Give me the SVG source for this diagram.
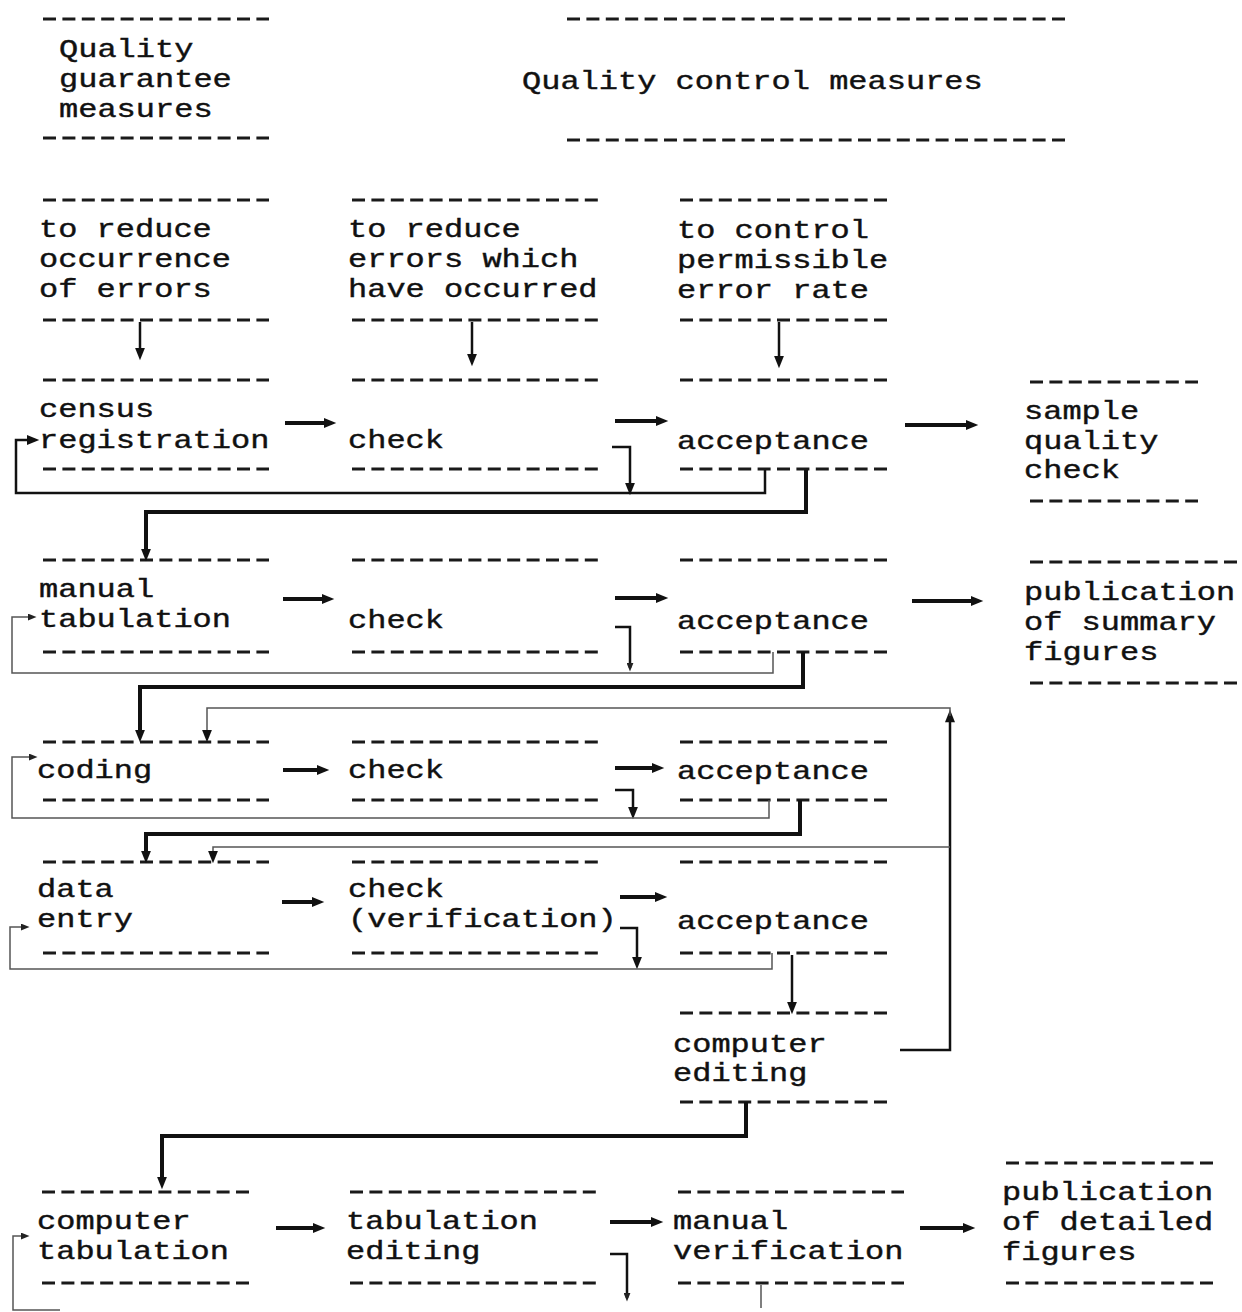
<svg xmlns="http://www.w3.org/2000/svg" width="1242" height="1312" viewBox="0 0 1242 1312">
<style>
.t{font-family:"Liberation Mono","Courier New",monospace;font-size:32px;fill:#111;stroke:#111;stroke-width:0.5}
.d{stroke:#1a1a1a;stroke-width:3;stroke-dasharray:13 6.4;fill:none}
.k{stroke:#111;stroke-width:4;fill:none}
.m{stroke:#111;stroke-width:2.5;fill:none}
.n{stroke:#555;stroke-width:1.5;fill:none}
</style>
<defs>
<marker id="ah" viewBox="0 0 10 8" refX="5" refY="4" markerWidth="13" markerHeight="10" markerUnits="userSpaceOnUse" orient="auto"><path d="M0,0 L10,4 L0,8 z" fill="#111"/></marker>
<marker id="as" viewBox="0 0 10 8" refX="6" refY="4" markerWidth="9" markerHeight="7" markerUnits="userSpaceOnUse" orient="auto"><path d="M0,0 L10,4 L0,8 z" fill="#222"/></marker>
</defs>
<rect width="1242" height="1312" fill="#fff"/>

<g id="header-guarantee">
<line class="d" x1="43" y1="19" x2="269" y2="19"/>
<text class="t" transform="translate(59,57) scale(1,0.8)"><tspan x="0" y="0">Quality</tspan><tspan x="0" y="37.5">guarantee</tspan><tspan x="0" y="75">measures</tspan></text>
<line class="d" x1="43" y1="138" x2="269" y2="138"/>
</g>
<g id="header-control">
<line class="d" x1="567" y1="19" x2="1065" y2="19"/>
<text class="t" transform="translate(522,89) scale(1,0.8)">Quality control measures</text>
<line class="d" x1="567" y1="140" x2="1065" y2="140"/>
</g>

<g id="cat-reduce-occurrence">
<line class="d" x1="43" y1="200" x2="269" y2="200"/>
<text class="t" transform="translate(39,237) scale(1,0.8)"><tspan x="0" y="0">to reduce</tspan><tspan x="0" y="37.5">occurrence</tspan><tspan x="0" y="75">of errors</tspan></text>
<line class="d" x1="43" y1="320" x2="269" y2="320"/>
</g>
<g id="cat-reduce-errors">
<line class="d" x1="352" y1="200" x2="598" y2="200"/>
<text class="t" transform="translate(348,237) scale(1,0.8)"><tspan x="0" y="0">to reduce</tspan><tspan x="0" y="37.5">errors which</tspan><tspan x="0" y="75">have occurred</tspan></text>
<line class="d" x1="352" y1="320" x2="598" y2="320"/>
</g>
<g id="cat-control-rate">
<line class="d" x1="680" y1="200" x2="887" y2="200"/>
<text class="t" transform="translate(677,238) scale(1,0.8)"><tspan x="0" y="0">to control</tspan><tspan x="0" y="37.5">permissible</tspan><tspan x="0" y="75">error rate</tspan></text>
<line class="d" x1="680" y1="320" x2="887" y2="320"/>
</g>

<g id="census-registration">
<line class="d" x1="43" y1="380" x2="269" y2="380"/>
<text class="t" transform="translate(39,417) scale(1,0.8)"><tspan x="0" y="0">census</tspan><tspan x="0" y="38.75">registration</tspan></text>
<line class="d" x1="43" y1="469" x2="269" y2="469"/>
</g>
<g id="check-1">
<line class="d" x1="352" y1="380" x2="598" y2="380"/>
<text class="t" transform="translate(348,448) scale(1,0.8)">check</text>
<line class="d" x1="352" y1="469" x2="598" y2="469"/>
</g>
<g id="acceptance-1">
<line class="d" x1="680" y1="380" x2="887" y2="380"/>
<text class="t" transform="translate(677,449) scale(1,0.8)">acceptance</text>
<line class="d" x1="680" y1="469" x2="887" y2="469"/>
</g>
<g id="sample-quality-check">
<line class="d" x1="1030" y1="382" x2="1198" y2="382"/>
<text class="t" transform="translate(1024,419) scale(1,0.8)"><tspan x="0" y="0">sample</tspan><tspan x="0" y="37.5">quality</tspan><tspan x="0" y="74">check</tspan></text>
<line class="d" x1="1030" y1="501" x2="1198" y2="501"/>
</g>

<g id="manual-tabulation">
<line class="d" x1="43" y1="560" x2="269" y2="560"/>
<text class="t" transform="translate(39,597) scale(1,0.8)"><tspan x="0" y="0">manual</tspan><tspan x="0" y="37.5">tabulation</tspan></text>
<line class="d" x1="43" y1="652" x2="269" y2="652"/>
</g>
<g id="check-2">
<line class="d" x1="352" y1="560" x2="598" y2="560"/>
<text class="t" transform="translate(348,628) scale(1,0.8)">check</text>
<line class="d" x1="352" y1="652" x2="598" y2="652"/>
</g>
<g id="acceptance-2">
<line class="d" x1="680" y1="560" x2="887" y2="560"/>
<text class="t" transform="translate(677,629) scale(1,0.8)">acceptance</text>
<line class="d" x1="680" y1="652" x2="887" y2="652"/>
</g>
<g id="publication-summary">
<line class="d" x1="1030" y1="562" x2="1237" y2="562"/>
<text class="t" transform="translate(1024,600) scale(1,0.8)"><tspan x="0" y="0">publication</tspan><tspan x="0" y="37.5">of summary</tspan><tspan x="0" y="75">figures</tspan></text>
<line class="d" x1="1030" y1="683" x2="1237" y2="683"/>
</g>

<g id="coding">
<line class="d" x1="43" y1="742" x2="269" y2="742"/>
<text class="t" transform="translate(37,778) scale(1,0.8)">coding</text>
<line class="d" x1="43" y1="800" x2="269" y2="800"/>
</g>
<g id="check-3">
<line class="d" x1="352" y1="742" x2="598" y2="742"/>
<text class="t" transform="translate(348,778) scale(1,0.8)">check</text>
<line class="d" x1="352" y1="800" x2="598" y2="800"/>
</g>
<g id="acceptance-3">
<line class="d" x1="680" y1="742" x2="887" y2="742"/>
<text class="t" transform="translate(677,779) scale(1,0.8)">acceptance</text>
<line class="d" x1="680" y1="800" x2="887" y2="800"/>
</g>

<g id="data-entry">
<line class="d" x1="43" y1="862" x2="269" y2="862"/>
<text class="t" transform="translate(37,897) scale(1,0.8)"><tspan x="0" y="0">data</tspan><tspan x="0" y="37.5">entry</tspan></text>
<line class="d" x1="43" y1="953" x2="269" y2="953"/>
</g>
<g id="check-verification">
<line class="d" x1="352" y1="862" x2="598" y2="862"/>
<text class="t" transform="translate(348,897) scale(1,0.8)"><tspan x="0" y="0">check</tspan><tspan x="0" y="37.5">(verification)</tspan></text>
<line class="d" x1="352" y1="953" x2="598" y2="953"/>
</g>
<g id="acceptance-4">
<line class="d" x1="680" y1="862" x2="887" y2="862"/>
<text class="t" transform="translate(677,929) scale(1,0.8)">acceptance</text>
<line class="d" x1="680" y1="953" x2="887" y2="953"/>
</g>

<g id="computer-editing">
<line class="d" x1="680" y1="1013" x2="887" y2="1013"/>
<text class="t" transform="translate(673,1052) scale(1,0.8)"><tspan x="0" y="0">computer</tspan><tspan x="0" y="36.25">editing</tspan></text>
<line class="d" x1="680" y1="1102" x2="887" y2="1102"/>
</g>

<g id="computer-tabulation">
<line class="d" x1="42" y1="1192" x2="249" y2="1192"/>
<text class="t" transform="translate(37,1229) scale(1,0.8)"><tspan x="0" y="0">computer</tspan><tspan x="0" y="37.5">tabulation</tspan></text>
<line class="d" x1="42" y1="1283" x2="249" y2="1283"/>
</g>
<g id="tabulation-editing">
<line class="d" x1="350" y1="1192" x2="596" y2="1192"/>
<text class="t" transform="translate(346,1229) scale(1,0.8)"><tspan x="0" y="0">tabulation</tspan><tspan x="0" y="37.5">editing</tspan></text>
<line class="d" x1="350" y1="1283" x2="596" y2="1283"/>
</g>
<g id="manual-verification">
<line class="d" x1="678" y1="1192" x2="904" y2="1192"/>
<text class="t" transform="translate(673,1229) scale(1,0.8)"><tspan x="0" y="0">manual</tspan><tspan x="0" y="37.5">verification</tspan></text>
<line class="d" x1="678" y1="1283" x2="904" y2="1283"/>
</g>
<g id="publication-detailed">
<line class="d" x1="1006" y1="1163" x2="1213" y2="1163"/>
<text class="t" transform="translate(1002,1200) scale(1,0.8)"><tspan x="0" y="0">publication</tspan><tspan x="0" y="37.5">of detailed</tspan><tspan x="0" y="75">figures</tspan></text>
<line class="d" x1="1006" y1="1283" x2="1213" y2="1283"/>
</g>

<g id="connectors">
<path class="m" d="M140,322 V354" marker-end="url(#ah)"/>
<path class="m" d="M472,322 V360" marker-end="url(#ah)"/>
<path class="m" d="M779,322 V362" marker-end="url(#ah)"/>

<path class="k" d="M285,423 H330" marker-end="url(#ah)"/>
<path class="k" d="M615,421 H662" marker-end="url(#ah)"/>
<path class="k" d="M905,425 H972" marker-end="url(#ah)"/>
<path class="m" d="M612,447 H630 V489" marker-end="url(#ah)"/>
<path class="m" d="M765,470 V493 H16 V440 H33" marker-end="url(#ah)"/>
<path class="k" d="M806,470 V512 H146 V555" marker-end="url(#ah)"/>

<path class="k" d="M283,599 H328" marker-end="url(#ah)"/>
<path class="k" d="M615,598 H662" marker-end="url(#ah)"/>
<path class="k" d="M912,601 H977" marker-end="url(#ah)"/>
<path class="m" d="M615,627 H630 V668" marker-end="url(#as)"/>
<path class="n" d="M773,652 V673 H12 V617 H33" marker-end="url(#as)"/>
<path class="k" d="M803,652 V687 H140 V736" marker-end="url(#ah)"/>

<path class="k" d="M283,770 H323" marker-end="url(#ah)"/>
<path class="k" d="M615,768 H658" marker-end="url(#ah)"/>
<path class="m" d="M615,790 H633 V813" marker-end="url(#ah)"/>
<path class="n" d="M769,800 V818 H12 V757 H34" marker-end="url(#as)"/>
<path class="k" d="M800,800 V834 H146 V857" marker-end="url(#ah)"/>
<path class="m" d="M900,1050 H950 V716" marker-end="url(#ah)"/>
<path class="n" d="M950,716 V708 H207 V736" marker-end="url(#ah)"/>
<path class="n" d="M950,847 H213 V857" marker-end="url(#ah)"/>

<path class="k" d="M282,902 H318" marker-end="url(#ah)"/>
<path class="k" d="M620,897 H661" marker-end="url(#ah)"/>
<path class="m" d="M620,928 H637 V963" marker-end="url(#ah)"/>
<path class="n" d="M772,953 V969 H10 V927 H26" marker-end="url(#as)"/>
<path class="m" d="M792,955 V1008" marker-end="url(#ah)"/>

<path class="k" d="M746,1102 V1136 H162 V1183" marker-end="url(#ah)"/>

<path class="k" d="M276,1228 H319" marker-end="url(#ah)"/>
<path class="k" d="M610,1222 H657" marker-end="url(#ah)"/>
<path class="k" d="M920,1228 H969" marker-end="url(#ah)"/>
<path class="m" d="M610,1254 H627 V1298" marker-end="url(#as)"/>
<path class="n" d="M761,1285 V1308"/>
<path class="n" d="M60,1310 H13 V1236 H26" marker-end="url(#as)"/>
</g>
</svg>
